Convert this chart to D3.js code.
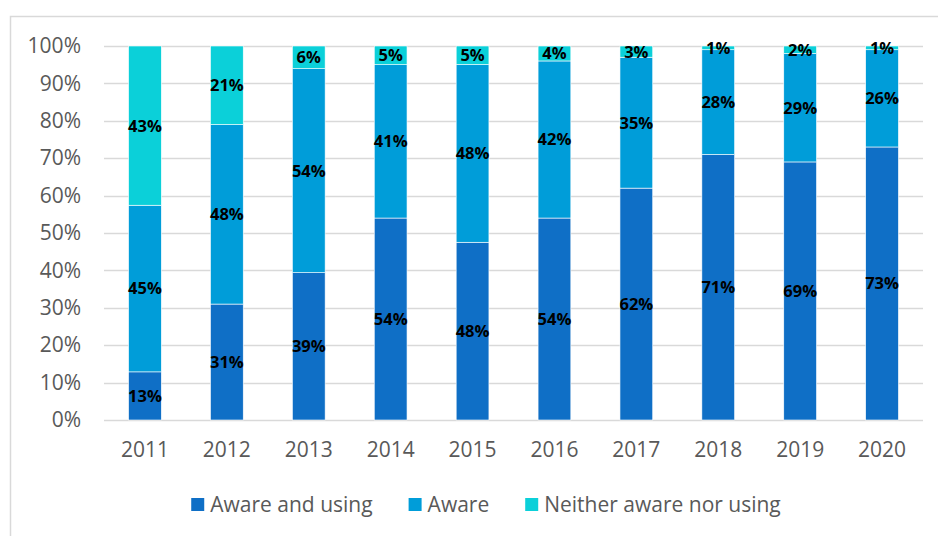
<!DOCTYPE html>
<html>
<head>
<meta charset="utf-8">
<script src="https://cdn.jsdelivr.net/npm/d3@7"></script>
<style>
  html, body { margin: 0; padding: 0; background: #fff; }
  svg { display: block; font-family: "Open Sans", sans-serif; }
</style>
</head>
<body>
<svg id="chart"></svg>
<script>
// Daten
const years = ["2011", "2012", "2013", "2014", "2015", "2016", "2017", "2018", "2019", "2020"];
const awareUsing = [13, 31, 39, 54, 48, 54, 62, 71, 69, 73];
const aware = [45, 48, 54, 41, 48, 42, 35, 28, 29, 26];
const neither = [43, 21, 6, 5, 5, 4, 3, 1, 2, 1];
const seriesKeys = ["awareUsing", "aware", "neither"];
const seriesLabels = ["Aware and using", "Aware", "Neither aware nor using"];
const seriesColors = ["#0F6FC6", "#009DD9", "#0BD0D9"];
const yTicks = [0, 0.1, 0.2, 0.3, 0.4, 0.5, 0.6, 0.7, 0.8, 0.9, 1];

const W = 938, H = 536;
const margin = { top: 46, right: 15, bottom: 116, left: 104 };
const width = W - margin.left - margin.right;
const height = H - margin.top - margin.bottom;

const svg = d3.select("#chart")
  .attr("width", W)
  .attr("height", H);

// Rahmen der Diagrammfläche (läuft rechts/unten aus dem Bild)
svg.append("rect")
  .attr("x", 10.5)
  .attr("y", 16.5)
  .attr("width", 952)
  .attr("height", 540)
  .attr("fill", "none")
  .attr("stroke", "#d9d9d9")
  .attr("stroke-width", 1.5);

const g = svg.append("g")
  .attr("transform", `translate(${margin.left},${margin.top})`);

const table = years.map((y, i) => ({
  year: y,
  awareUsing: awareUsing[i],
  aware: aware[i],
  neither: neither[i]
}));

const stacked = d3.stack()
  .keys(seriesKeys)
  .offset(d3.stackOffsetExpand)(table);

const xScale = d3.scaleBand()
  .domain(years)
  .range([0, width])
  .paddingInner(0.6)
  .paddingOuter(0.3);

const yScale = d3.scaleLinear()
  .domain([0, 1])
  .range([height, 0]);

const colorScale = d3.scaleOrdinal()
  .domain(seriesKeys)
  .range(seriesColors);

// Gitterlinien
g.append("g")
  .attr("class", "grid")
  .selectAll("line")
  .data(yTicks)
  .enter()
  .append("line")
    .attr("x1", 0)
    .attr("x2", width)
    .attr("y1", d => Math.round(yScale(d)) + 0.5)
    .attr("y2", d => Math.round(yScale(d)) + 0.5)
    .attr("stroke", "#d9d9d9")
    .attr("stroke-width", 1.3);

// y-Achse
const yAxis = g.append("g")
  .call(d3.axisLeft(yScale).tickValues(yTicks).tickFormat(d3.format(".0%")).tickSize(0).tickPadding(23));
yAxis.select(".domain").remove();
yAxis.selectAll("text")
  .attr("fill", "#595959")
  .attr("font-size", "21px")
  .attr("font-family", "'Open Sans', sans-serif");

// x-Achse
const xAxis = g.append("g")
  .attr("transform", `translate(0,${height})`)
  .call(d3.axisBottom(xScale).tickSize(0).tickPadding(22));
xAxis.select(".domain").remove();
xAxis.selectAll("text")
  .attr("fill", "#595959")
  .attr("font-size", "21px")
  .attr("font-family", "'Open Sans', sans-serif");

// Balken
const layers = g.append("g")
  .selectAll("g")
  .data(stacked)
  .enter()
  .append("g")
    .attr("fill", d => colorScale(d.key));

layers.selectAll("rect")
  .data(d => d)
  .enter()
  .append("rect")
    .attr("x", d => xScale(d.data.year))
    .attr("y", d => yScale(d[1]))
    .attr("width", xScale.bandwidth())
    .attr("height", d => yScale(d[0]) - yScale(d[1]))
    .attr("stroke", "#ffffff")
    .attr("stroke-width", 0.6);

// Datenbeschriftungen
stacked.forEach(layer => {
  g.append("g")
    .selectAll("text")
    .data(layer)
    .enter()
    .append("text")
      .attr("x", d => xScale(d.data.year) + xScale.bandwidth() / 2)
      .attr("y", d => (yScale(d[0]) + yScale(d[1])) / 2)
      .attr("dy", "0.36em")
      .attr("text-anchor", "middle")
      .attr("font-size", "16.5px")
      .attr("font-weight", "700")
      .attr("fill", "#000")
      .text(d => d.data[layer.key] + "%");
});

// Legende (zentriert unter der Diagrammfläche)
const legend = svg.append("g").attr("class", "legend");
let cursor = 0;
seriesKeys.forEach((key, i) => {
  const item = legend.append("g").attr("transform", `translate(${cursor},0)`);
  item.append("rect")
    .attr("x", 0)
    .attr("y", -14)
    .attr("width", 13)
    .attr("height", 13)
    .attr("fill", colorScale(key));
  const t = item.append("text")
    .attr("x", 19)
    .attr("y", 0)
    .attr("fill", "#595959")
    .attr("font-size", "21px")
    .text(seriesLabels[i]);
  cursor += 19 + t.node().getComputedTextLength() + 36;
});
const lb = legend.node().getBBox();
legend.attr("transform", `translate(${486 - lb.width / 2},512)`);
</script>
</body>
</html>
